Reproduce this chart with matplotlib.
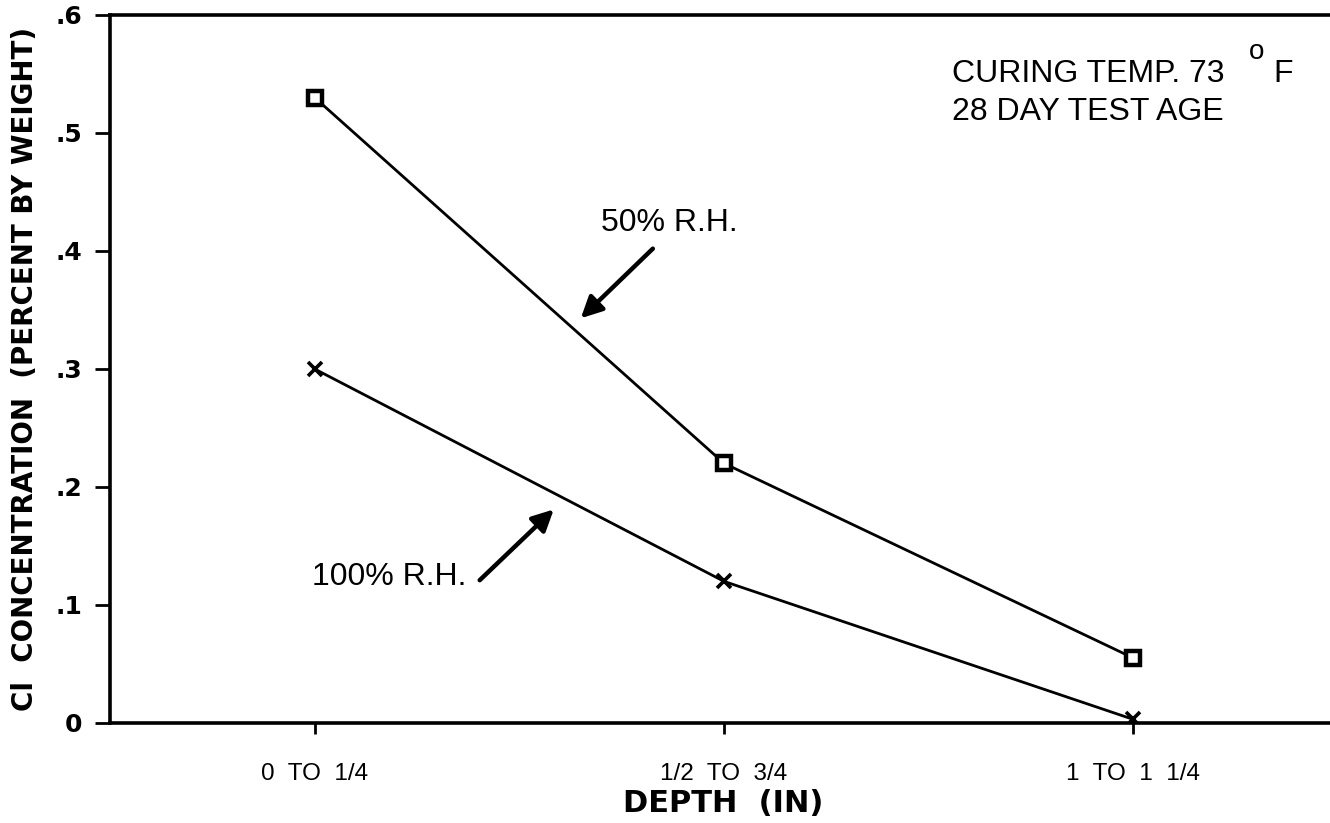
import matplotlib
matplotlib.use("Agg")
import matplotlib.pyplot as plt

depth_labels = ["0  TO  1/4", "1/2  TO  3/4", "1  TO  1  1/4"]
rh50_values = [0.53, 0.22, 0.055]
rh100_values = [0.30, 0.12, 0.003]
y_ticks = [0, 0.1, 0.2, 0.3, 0.4, 0.5, 0.6]
y_tick_labels = ["0", ".1", ".2", ".3", ".4", ".5", ".6"]

label_font = "Liberation Sans"

fig = plt.figure(figsize=(13.3, 8.23), dpi=100)
ax = fig.add_axes([110 / 1330, 1 - 723 / 823, 1 - 110 / 1330, (723 - 15) / 823])

x = list(range(len(depth_labels)))
ax.plot(x, rh50_values, color="black", lw=2, marker="s", ms=10.5, mfc="white",
        mec="black", mew=3.2, zorder=3)
ax.plot(x, rh100_values, color="black", lw=2, marker="x", ms=10, mew=2.6, zorder=3)

ax.set_xlim(-0.5, 2.48)
ax.set_ylim(0, 0.6)
ax.spines["right"].set_visible(False)
for s in ("left", "bottom", "top"):
    ax.spines[s].set_linewidth(2.6)

ax.set_yticks(y_ticks)
ax.set_yticklabels(y_tick_labels, fontsize=18, fontweight="bold", family="DejaVu Sans")
ax.set_xticks(x)
ax.set_xticklabels(depth_labels, fontsize=17.5, family=label_font)
ax.tick_params(axis="y", direction="out", length=11, width=2, pad=9)
ax.tick_params(axis="x", direction="out", length=8, width=2, pad=21)

ax.set_xlabel("DEPTH  (IN)", fontsize=22, fontweight="bold", family="DejaVu Sans")
ax.xaxis.set_label_coords((723 - 110) / 1220, -(789 - 723) / 708)
ax.set_ylabel("Cl  CONCENTRATION  (PERCENT BY WEIGHT)", fontsize=20, fontweight="bold",
              family="DejaVu Sans", labelpad=12)

ax.text(1.557, 0.550, "CURING TEMP. 73", fontsize=23, family=label_font, va="center")
ax.text(2.301, 0.569, "o", fontsize=20, family=label_font, va="center", ha="center")
ax.text(2.342, 0.550, "F", fontsize=23, family=label_font, va="center")
ax.text(1.557, 0.518, "28 DAY TEST AGE", fontsize=23, family=label_font, va="center")

# curve labels with their pointer arrows
ax.text(0.70, 0.424, "50% R.H.", fontsize=23, family=label_font, va="center")
ax.annotate("", xy=(0.650, 0.343), xytext=(0.826, 0.402),
            arrowprops=dict(arrowstyle="-|>", color="black", lw=3.2,
                            mutation_scale=32, shrinkA=0, shrinkB=0))
ax.text(-0.007, 0.124, "100% R.H.", fontsize=23, family=label_font, va="center")
ax.annotate("", xy=(0.584, 0.181), xytext=(0.403, 0.121),
            arrowprops=dict(arrowstyle="-|>", color="black", lw=3.2,
                            mutation_scale=32, shrinkA=0, shrinkB=0))

fig.savefig("out.png", dpi=100)
